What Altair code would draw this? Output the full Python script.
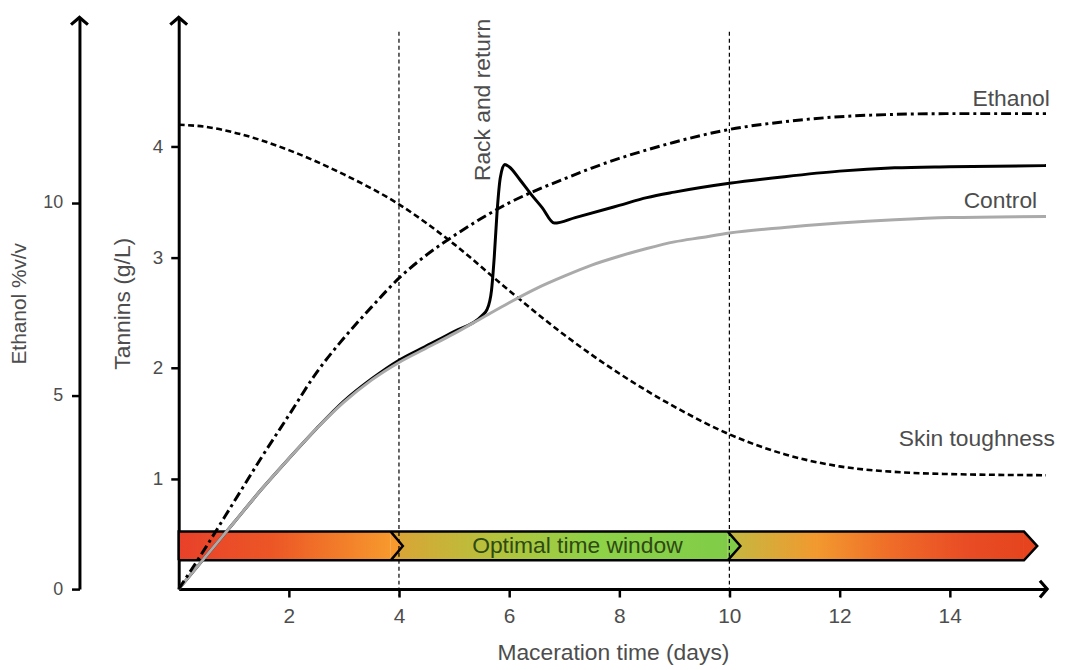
import altair as alt
import pandas as pd

# ---------------- data ----------------
control_day = [0, 0.5, 1, 1.5, 2, 2.5, 3, 3.5, 4, 4.5, 5, 5.5, 6, 6.5, 7, 7.5, 8, 8.5, 9, 9.5, 10, 11, 12, 13, 14, 15.75]
control_tan = [0, 0.3, 0.6, 0.9, 1.18, 1.45, 1.69, 1.89, 2.05, 2.18, 2.31, 2.45, 2.59, 2.72, 2.83, 2.93, 3.01, 3.08, 3.14, 3.18, 3.22, 3.27, 3.31, 3.34, 3.36, 3.37]

rack_day = [0, 0.5, 1, 1.5, 2, 2.5, 3, 3.5, 4, 4.5, 5, 5.5, 5.6, 5.68, 5.73, 5.78, 5.84, 5.92, 6.0, 6.2, 6.4, 6.6, 6.82, 7.2, 8, 8.5, 9, 10, 11, 12, 13, 14, 15.75]
rack_tan = [0, 0.3, 0.6, 0.9, 1.18, 1.45, 1.7, 1.9, 2.07, 2.2, 2.33, 2.47, 2.53, 2.7, 3.0, 3.4, 3.72, 3.84, 3.82, 3.7, 3.57, 3.45, 3.31, 3.36, 3.47, 3.54, 3.59, 3.67, 3.73, 3.78, 3.81, 3.82, 3.83]

ethanol_day = [0, 0.5, 1, 1.5, 2, 2.5, 3, 3.5, 4, 4.5, 5, 5.5, 6, 6.5, 7, 7.5, 8, 8.5, 9, 10, 11, 12, 13, 14, 15.75]
ethanol_pct = [0, 1.1, 2.25, 3.4, 4.5, 5.6, 6.5, 7.3, 8.05, 8.65, 9.15, 9.6, 10.0, 10.33, 10.62, 10.9, 11.15, 11.37, 11.57, 11.9, 12.1, 12.23, 12.29, 12.31, 12.31]

skin_day = [0, 0.5, 1, 2, 3, 4, 5, 6, 7, 8, 9, 10, 11, 12, 13, 14, 15.75]
skin_val = [4.2, 4.18, 4.13, 3.97, 3.75, 3.48, 3.12, 2.7, 2.3, 1.95, 1.65, 1.4, 1.22, 1.11, 1.06, 1.04, 1.03]

window_marks = [4, 10]            # dotted vertical lines (days)
x_ticks = [2, 4, 6, 8, 10, 12, 14]
tannin_ticks = [1, 2, 3, 4]
ethanol_ticks = [0, 5, 10]

bar_low, bar_high = 0.26, 0.52     # optimal-window band (tannin units)
seg_start = [0, 3.85, 9.97]
seg_end = [3.85, 9.97, 15.35]
arrow_tip = 15.59
chevron_tip = [4.07, 10.2]

series_labels = ["Ethanol", "Control", "Skin toughness"]
series_label_day = [15.82, 15.59, 15.91]
series_label_y = [4.43, 3.51, 1.36]

X_MAX, T_MAX, E_MAX = 15.77, 5.17, 14.8
W, H = 875, 576
FONT = "Liberation Sans"
TXT = "#4d4d4d"

xscale = alt.Scale(domain=[0, X_MAX], nice=False, zero=False)
tscale = alt.Scale(domain=[0, T_MAX], nice=False, zero=False)
escale = alt.Scale(domain=[0, E_MAX], nice=False, zero=False)

xaxis = alt.Axis(values=x_ticks, title="Maceration time (days)", labelFontSize=21,
                 labelPadding=9, titleFontSize=23, titleY=64, titleBaseline="middle")
taxis = alt.Axis(values=tannin_ticks, title="Tannins (g/L)", orient="left", labelFontSize=19,
                 labelPadding=8, titleFontSize=23, titleAngle=270, titleX=-57, titleY=H / 2,
                 titleAlign="center", titleBaseline="middle")
eaxis = alt.Axis(values=ethanol_ticks, title="Ethanol %v/v", orient="left", offset=100,
                 labelFontSize=18, labelPadding=9, titleFontSize=21, titleAngle=270,
                 titleX=-60, titleY=H / 2, titleAlign="center", titleBaseline="middle")


def X(f):
    return alt.X(f"{f}:Q", scale=xscale, axis=None)


def Y(f):
    return alt.Y(f"{f}:Q", scale=tscale, axis=None)


def grad(stops):
    return alt.Gradient(gradient="linear", x1=0, x2=1, y1=0, y2=0,
                        stops=[alt.GradientStop(offset=o, color=c) for o, c in stops])


# ---- axes carriers (invisible points) ----
axis_x = alt.Chart(pd.DataFrame({"x": x_ticks})).mark_point(opacity=0).encode(
    x=alt.X("x:Q", scale=xscale, axis=xaxis))
axis_t = alt.Chart(pd.DataFrame({"y": tannin_ticks})).mark_point(opacity=0).encode(
    y=alt.Y("y:Q", scale=tscale, axis=taxis))

seg_grads = [
    [(0, "#e8412a"), (0.45, "#ec5726"), (1, "#f7992d")],
    [(0, "#dca235"), (0.3, "#b6c23c"), (0.6, "#8ed247"), (1, "#80cc48")],
    [(0, "#c2b941"), (0.3, "#f2992f"), (0.55, "#ef6c28"), (0.8, "#e94d25"), (1, "#e5441f")],
]

# ---- band ----
band_layers = []
for s, e, g in zip(seg_start, seg_end, seg_grads):
    d = pd.DataFrame({"x": [s], "x2": [e], "y": [bar_low], "y2": [bar_high]})
    band_layers.append(alt.Chart(d).mark_rect(fill=grad(g)).encode(
        x=X("x"), x2="x2", y=Y("y"), y2="y2"))

mid = (bar_low + bar_high) / 2
tri_colors = ["#f7992d", "#80cc48"]
for s, tip, c in zip(seg_end[:2], chevron_tip, tri_colors):
    d = pd.DataFrame({"x": [s, tip], "y": [bar_low, mid], "y2": [bar_high, mid]})
    band_layers.append(alt.Chart(d).mark_area(color=c, opacity=1).encode(x=X("x"), y=Y("y"), y2="y2"))
    cd = pd.DataFrame({"x": [s, tip, s], "y": [bar_high, mid, bar_low], "o": [0, 1, 2]})
    band_layers.append(alt.Chart(cd).mark_line(color="black", strokeWidth=2.5, strokeJoin="miter").encode(
        x=X("x"), y=Y("y"), order="o:Q"))

tip_d = pd.DataFrame({"x": [seg_end[2], arrow_tip], "y": [bar_low, mid], "y2": [bar_high, mid]})
band_layers.append(alt.Chart(tip_d).mark_area(color="#e5441f", opacity=1).encode(x=X("x"), y=Y("y"), y2="y2"))

outline = pd.DataFrame({
    "x": [0, 0, seg_end[2], arrow_tip, seg_end[2], 0],
    "y": [bar_low, bar_high, bar_high, mid, bar_low, bar_low],
    "o": list(range(6))})
band_layers.append(alt.Chart(outline).mark_line(color="black", strokeWidth=2.5, strokeJoin="miter").encode(
    x=X("x"), y=Y("y"), order="o:Q"))

band_text = alt.Chart(pd.DataFrame({"x": [7.24], "y": [mid], "t": ["Optimal time window"]})).mark_text(
    font=FONT, fontSize=23, color="#2f4a14", baseline="middle", align="center").encode(
    x=X("x"), y=Y("y"), text="t:N")

# ---- dotted window lines ----
vlines = alt.Chart(pd.DataFrame({"x": window_marks, "y": [5.04] * 2, "y2": [-0.06] * 2})).mark_rule(
    color="black", strokeWidth=1.2, strokeDash=[4, 3]).encode(x=X("x"), y=Y("y"), y2="y2")


# ---- curves ----
def curve(days, vals, **kw):
    d = pd.DataFrame({"x": days, "y": vals})
    return alt.Chart(d).mark_line(interpolate="monotone", **kw).encode(x=X("x"), y=Y("y"))


skin = curve(skin_day, skin_val, color="black", strokeWidth=2.6, strokeDash=[6, 3.5])
rack = curve(rack_day, rack_tan, color="black", strokeWidth=3, strokeJoin="round")
control = curve(control_day, control_tan, color="#aaaaaa", strokeWidth=3)

eth_df = pd.DataFrame({"x": ethanol_day, "e": ethanol_pct})
ethanol = alt.Chart(eth_df).mark_line(interpolate="monotone", color="black", strokeWidth=3,
                                      strokeDash=[10, 4, 3, 4]).encode(
    x=X("x"), y=alt.Y("e:Q", scale=escale, axis=eaxis))

labels = alt.Chart(pd.DataFrame({"x": series_label_day, "y": series_label_y, "t": series_labels})).mark_text(
    font=FONT, fontSize=23, color=TXT, align="right", baseline="middle").encode(
    x=X("x"), y=Y("y"), text="t:N")

rack_label = alt.Chart(pd.DataFrame({"x": [5.53], "y": [3.69], "t": ["Rack and return"]})).mark_text(
    font=FONT, fontSize=23, color=TXT, align="left", baseline="middle", angle=270).encode(
    x=X("x"), y=Y("y"), text="t:N")


# ---- axis arrow heads ----
def arrow(shape, px, py):
    return alt.Chart(pd.DataFrame({"a": [0]})).mark_point(
        shape=shape, filled=False, size=289, strokeWidth=3.2, color="black", opacity=1,
        strokeJoin="miter").encode(x=alt.value(px), y=alt.value(py))


arrows = [arrow("M-1,0.85L0,0L1,0.85", 0, 0),
          arrow("M-1,0.85L0,0L1,0.85", -100, 0),
          arrow("M-0.85,-1L0,0L-0.85,1", W, H)]

chart = alt.layer(axis_x, axis_t, *band_layers, vlines, skin, rack, control, ethanol,
                  band_text, labels, rack_label, *arrows).resolve_scale(
    x="independent", y="independent").properties(
    width=W, height=H,
    autosize=alt.AutoSizeParams(type="none"),
    padding={"left": 172, "top": 7, "right": 14, "bottom": 78},
    background="white",
).configure_view(stroke=None).configure_axis(
    grid=False, domainColor="black", domainWidth=3, tickColor="black", tickWidth=2.5, tickSize=8,
    labelFont=FONT, titleFont=FONT, labelColor=TXT, titleColor=TXT, titleFontWeight="normal",
)

chart.save("out.html", embed_options={"renderer": "svg", "actions": False})
